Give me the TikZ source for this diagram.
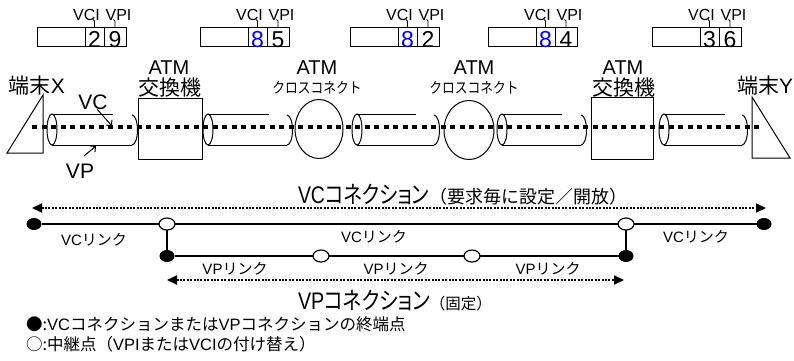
\documentclass[tikz,border=0pt]{standalone}
\usepackage{fontspec}
\setmainfont{Noto Sans CJK JP}[RawFeature=+palt]
\newfontfamily\fw{Noto Sans CJK JP}
\newfontfamily\lat{Liberation Sans}
\usetikzlibrary{arrows.meta,shapes.geometric}
\newcommand\fsz[1]{\fontsize{#1pt}{#1pt}\selectfont}
\begin{document}
\begin{tikzpicture}[x=1pt,y=1pt,
 every node/.style={inner sep=0pt, outer sep=0pt},
 cell/.style={draw, line width=0.9pt, minimum height=19pt, anchor=north west},
 hdr/.style={font=\lat\fsz{16}},
 digit/.style={font=\lat\fsz{23}, anchor=base},
 big/.style={font=\fsz{21}},
 atm/.style={font=\lat\fsz{20}},
 xc/.style={font=\fw\fsz{15}},
 outl/.style={line width=1pt},
 pipe/.style={line width=1pt},
 bigdots/.style={line width=4pt, dash pattern=on 5pt off 4.5pt},
 dblarrow/.style={line width=2pt, dash pattern=on 2pt off 1.4pt, {Triangle[length=10pt,width=9pt]}-{Triangle[length=10pt,width=9pt]}},
 conn/.style={line width=1.8pt},
 fdot/.style={ellipse, fill=black, minimum width=15pt, minimum height=12pt},
 odot/.style={ellipse, draw, line width=1.2pt, fill=white, minimum width=16pt, minimum height=12pt},
 link/.style={font=\fw\fsz{15}},
 legend/.style={anchor=west, font=\fw\fsz{16.5}},
 barb/.style={line width=1pt, -{Straight Barb[length=4pt,width=8pt]}}
]
\useasboundingbox (0,0) rectangle (794,-360);

% ---- header boxes ----
\foreach \x/\a/\b/\c [count=\i] in {37/2/9/black,200/8/5/blue,350/8/2/blue,488/8/4/blue,652/3/6/black}{
 \node[cell, minimum width=48pt] (bl\i) at (\x,-27) {};
 \node[cell, minimum width=19pt] (ci\i) at (bl\i.north east) {};
 \node[cell, minimum width=22pt] (pi\i) at (ci\i.north east) {};
 \node[digit, text=\c] (cd\i) at ([yshift=-1pt]ci\i.south) {\a};
 \node[digit] (pd\i) at ([yshift=-1pt]pi\i.south) {\b};
 \node[hdr] (ch\i) at (\x+49.5,-15) {VCI};
 \node[hdr] (ph\i) at (\x+81.5,-15) {VPI};
 \draw[line width=0.8pt] (ci\i.north) -- ++(0,6) -- ++(-1.5,1.5);
 \draw[line width=0.8pt] (pi\i.north) -- ++(0,6) -- ++(-1.5,1.5);
}

% ---- terminals ----
\node[big] (tx) at (37,-86) {端末{\lat X}};
\node[big] (ty) at (765,-86) {端末{\lat Y}};
\draw[outl] (7,-153) -- (43,-153) -- (43,-95) -- cycle;
\draw[outl] (752,-97) -- (752,-158) -- (790,-158) -- cycle;

% ---- switches and cross-connects ----
\node[draw, outl, minimum width=64pt, minimum height=61pt] (sw1) at (170,-128.5) {};
\node[draw, outl, minimum width=62pt, minimum height=62pt] (sw2) at (622.5,-128) {};
\node[draw, outl, ellipse, minimum width=48pt, minimum height=59pt] (xc1) at (319,-129) {};
\node[draw, outl, ellipse, minimum width=50pt, minimum height=59pt] (xc2) at (469,-130) {};
\node[atm] (a1) at (169,-68) {ATM};
\node[big] (k1) at (170,-88) {交換機};
\node[atm] (a2) at (623,-68) {ATM};
\node[big] (k2) at (624,-88) {交換機};
\node[atm] (a3) at (317,-68) {ATM};
\node[xc] (k3) at (317,-88) {\scalebox{0.85}[1]{クロスコネクト}};
\node[atm] (a4) at (474,-68) {ATM};
\node[xc] (k4) at (474,-88) {\scalebox{0.85}[1]{クロスコネクト}};

% ---- VP pipes ----
\foreach \l/\t/\b in {52/113/132,208/269/287,357/416/434,502/562/581,664/725/742}{
 \draw[pipe] (\l,-129.5) ellipse [x radius=5pt, y radius=15.5pt];
 \draw[pipe] (\l,-114) -- (\t,-114);
 \draw[pipe] (\l,-145) -- (\b,-145);
 \draw[pipe] (\b,-115) arc [start angle=90, end angle=-90, x radius=5.5pt, y radius=15pt];
}

% ---- VC path ----
\coordinate (ex) at (32,-127);
\coordinate (ey) at (762,-127);
\draw[bigdots] (ex) -- (ey);

\node[font=\lat\fsz{21}] (vclab) at (93,-102) {VC};
\coordinate (vctip) at (112,-126);
\draw[barb] (vclab.-60) -- (vctip);
\node[font=\lat\fsz{21}] (vplab) at (80,-171) {VP};
\coordinate (vps) at (84,-156);
\coordinate (vptip) at (96,-146);
\draw[barb] (vps) -- (vptip);

% ---- connections ----
\node[anchor=base west] (vcc) at (298,-203) {\fsz{24}\scalebox{0.81}[1]{{\lat VC}コネクション}{\fw\fsz{18}（要求毎に設定／開放）}};
\coordinate (vcl) at (32,-208);
\coordinate (vcr) at (766,-208);
\draw[dblarrow] (vcl) -- (vcr);

\node[fdot] (f1) at (34,-224) {};
\node[odot] (o1) at (167,-224) {};
\node[odot] (o2) at (626,-224) {};
\node[fdot] (f2) at (764,-224) {};
\node[fdot] (f3) at (167,-256) {};
\node[odot] (o3) at (321,-256) {};
\node[odot] (o4) at (472,-256) {};
\node[fdot] (f4) at (626,-256) {};
\draw[conn] (f1) -- (o1) -- (o2) -- (f2);
\draw[conn] (o1) -- (f3);
\draw[conn] (o2) -- (f4);
\draw[conn] (f3) -- (o3) -- (o4) -- (f4);

\node[link] (l1) at (94,-240) {{\lat VC}リンク};
\node[link] (l2) at (374,-237) {{\lat VC}リンク};
\node[link] (l3) at (696,-237) {{\lat VC}リンク};
\node[link] (l4) at (235,-269) {{\lat VP}リンク};
\node[link] (l5) at (396,-269) {{\lat VP}リンク};
\node[link] (l6) at (548,-269) {{\lat VP}リンク};

\coordinate (vpl) at (167,-280);
\coordinate (vpr) at (624,-280);
\draw[dblarrow] (vpl) -- (vpr);
\node[anchor=base west] (vpc) at (298,-309) {\fsz{24}\scalebox{0.82}[1]{{\lat VP}コネクション}{\fw\fsz{15.5}（固定）}};

% ---- legend ----
\node[legend] (lg1) at (26,-324) {●:{\lat VC}コネクションまたは{\lat VP}コネクションの終端点};
\node[legend] (lg2) at (26,-344) {○:中継点（{\lat VPI}または{\lat VCI}の付け替え）};
\end{tikzpicture}
\end{document}
